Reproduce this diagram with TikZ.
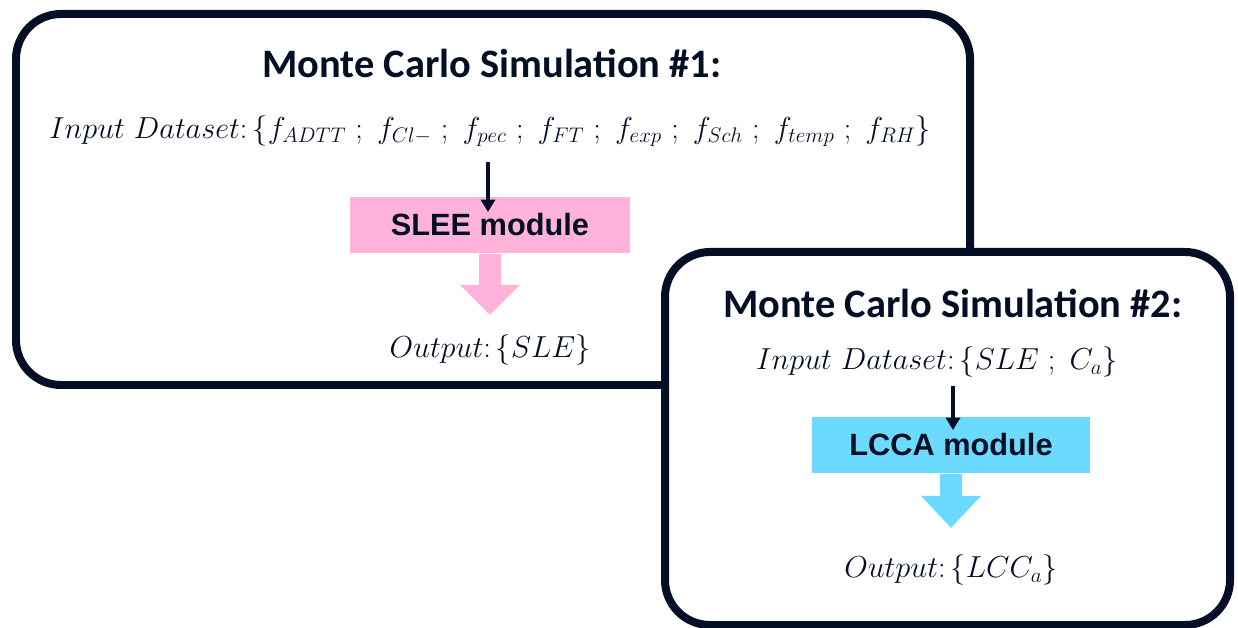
\documentclass[tikz,border=0pt]{standalone}
\usepackage{fontspec}
\newfontfamily\titlefont{Carlito}
\newfontfamily\modfont{Liberation Sans}
\usetikzlibrary{arrows.meta}
\definecolor{navy}{RGB}{4,14,36}
\definecolor{pinkfill}{RGB}{255,178,218}
\definecolor{cyanfill}{RGB}{108,218,255}
\tikzset{
  simbox/.style={draw=navy, line width=8*0.569pt, rounded corners=45*0.569pt, fill=white},
  titletext/.style={text=navy, font=\titlefont\bfseries\fontsize{23}{27}\selectfont, inner sep=0pt},
  mathtext/.style={text=navy, font=\fontsize{17}{20}\selectfont, inner sep=0pt},
  modbox/.style={minimum height=57*0.569pt, text=navy, font=\modfont\bfseries\fontsize{17.5}{20}\selectfont, inner sep=0pt},
  inarrow/.style={draw=navy, line width=2.2pt, -{Triangle[length=7pt,width=8pt]}},
}
\begin{document}
\begin{tikzpicture}[x=0.02cm,y=-0.02cm]
\useasboundingbox (0,0) rectangle (1238,628);
% box 1
\draw[simbox] (16,14) rectangle (970,385);
\node[titletext] (t1) at (492,63) {Monte Carlo Simulation \#1:};
\node[mathtext] (in1) at (490,131) {$Input\ Dataset\colon \bigl\{f_{ADTT}\ ;\ f_{Cl-}\ ;\ f_{pec}\ ;\ f_{FT}\ ;\ f_{exp}\ ;\ f_{Sch}\ ;\ f_{temp}\ ;\ f_{RH}\bigr\}$};
\node[modbox, fill=pinkfill, minimum width=280*0.569pt] (slee) at (490,225) {SLEE module};
\coordinate (a1s) at (488,162);
\coordinate (a1e) at (488,212);
\draw[inarrow] (a1s) -- (a1e);
\fill[pinkfill] (slee.south) ++(-11,0) -- ++(0,31) -- ++(-19,0) -- ++(30,30) -- ++(30,-30) -- ++(-19,0) -- ++(0,-31) -- cycle;
\node[mathtext] (out1) at (490,350) {$Output\colon \{SLE\}$};
% box 2
\draw[simbox] (665,252) rectangle (1230,625);
\node[titletext] (t2) at (953,303) {Monte Carlo Simulation \#2:};
\node[mathtext] (in2) at (937,362) {$Input\ Dataset\colon \{SLE\ ;\ C_a\}$};
\node[modbox, fill=cyanfill, minimum width=278*0.569pt] (lcca) at (951,445) {LCCA module};
\coordinate (a2s) at (953,386);
\coordinate (a2e) at (953,430);
\draw[inarrow] (a2s) -- (a2e);
\fill[cyanfill] (lcca.south) ++(-11,0) -- ++(0,22) -- ++(-19,0) -- ++(30,32) -- ++(30,-32) -- ++(-19,0) -- ++(0,-22) -- cycle;
\node[mathtext] (out2) at (951,570) {$Output\colon \{LCC_a\}$};
\end{tikzpicture}
\end{document}
